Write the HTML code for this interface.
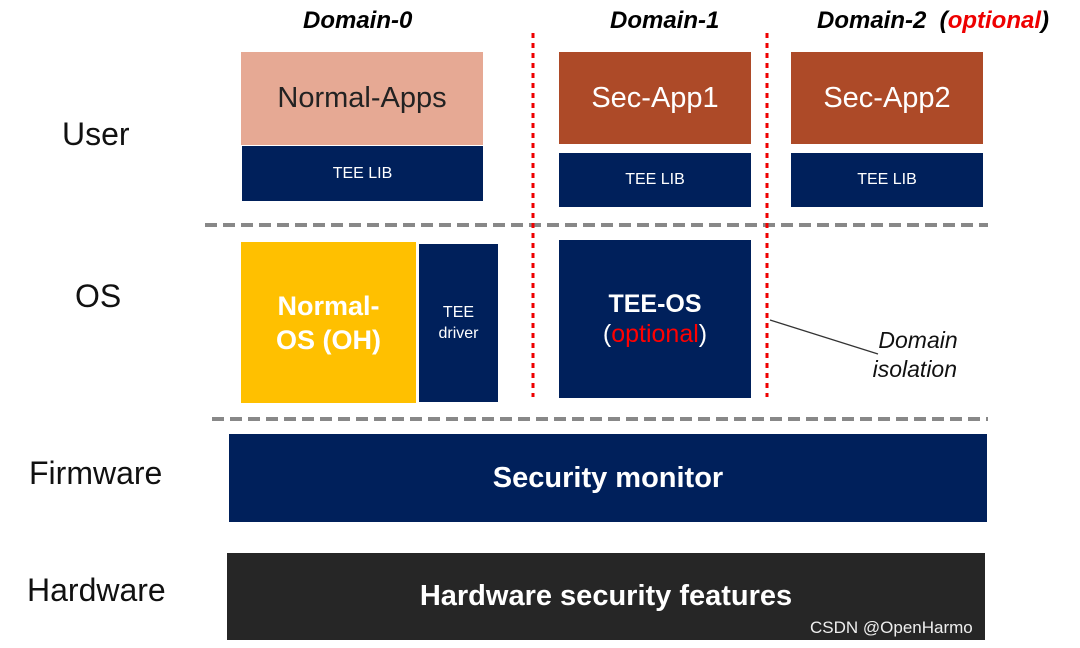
<!DOCTYPE html>
<html><head><meta charset="utf-8"><style>
body{margin:0;width:1080px;height:648px;background:#fff;position:relative;overflow:hidden;font-family:"Liberation Sans","DejaVu Sans",sans-serif}
.b{position:absolute;display:flex;align-items:center;justify-content:center;text-align:center;color:#fff}
.n{background:#00205b}
.t{position:absolute;font-size:32px;color:#111}
.d{position:absolute;font-style:italic;font-weight:bold;font-size:24px;color:#000}
</style></head><body>
<div class="d" style="left:303px;top:7px">Domain-0</div>
<div class="d" style="left:610px;top:7px">Domain-1</div>
<div class="d" style="left:817px;top:7px">Domain-2 &nbsp;(<span style="color:#e00">optional</span>)</div>

<div class="t" style="left:62px;top:116px">User</div>
<div class="t" style="left:75px;top:278px">OS</div>
<div class="t" style="left:29px;top:455px">Firmware</div>
<div class="t" style="left:27px;top:572px">Hardware</div>

<div class="b" style="left:241px;top:52px;width:242px;height:93px;background:#e6a994;color:#222;font-size:29px">Normal-Apps</div>
<div class="b n" style="left:242px;top:146px;width:241px;height:55px;font-size:16px">TEE LIB</div>
<div class="b" style="left:559px;top:52px;width:192px;height:92px;background:#ad4a28;font-size:29px">Sec-App1</div>
<div class="b n" style="left:559px;top:153px;width:192px;height:54px;font-size:16px">TEE LIB</div>
<div class="b" style="left:791px;top:52px;width:192px;height:92px;background:#ad4a28;font-size:29px">Sec-App2</div>
<div class="b n" style="left:791px;top:153px;width:192px;height:54px;font-size:16px">TEE LIB</div>

<div class="b" style="left:241px;top:242px;width:175px;height:161px;background:#ffc000;font-size:27px;font-weight:bold;line-height:34px">Normal-<br>OS (OH)</div>
<div class="b n" style="left:419px;top:244px;width:79px;height:158px;font-size:16px;line-height:21px">TEE<br>driver</div>
<div class="b n" style="left:559px;top:240px;width:192px;height:158px;font-size:25px;line-height:30px"><div><b>TEE-OS</b><br>(<span style="color:#f00">optional</span>)</div></div>

<div class="b n" style="left:229px;top:434px;width:758px;height:88px;font-size:29px;font-weight:bold">Security monitor</div>
<div class="b" style="left:227px;top:553px;width:758px;height:87px;background:#262626;font-size:29px;font-weight:bold">Hardware security features</div>

<svg style="position:absolute;left:0;top:0" width="1080" height="648">
<line x1="205" y1="225" x2="988" y2="225" stroke="#888" stroke-width="4" stroke-dasharray="12,6"/>
<line x1="212" y1="419" x2="988" y2="419" stroke="#888" stroke-width="4" stroke-dasharray="12,6"/>
<line x1="533" y1="33" x2="533" y2="397" stroke="#e00" stroke-width="3" stroke-dasharray="5,5"/>
<line x1="767" y1="33" x2="767" y2="397" stroke="#e00" stroke-width="3" stroke-dasharray="5,5"/>
<line x1="770" y1="320" x2="878" y2="354" stroke="#333" stroke-width="1.2"/>
</svg>
<div style="position:absolute;left:872px;top:326px;font-style:italic;font-size:23px;line-height:29px;color:#111;text-align:center">&nbsp;Domain<br>isolation</div>
<div style="position:absolute;left:810px;top:618px;font-size:17px;color:#eee">CSDN @OpenHarmo</div>
</body></html>
